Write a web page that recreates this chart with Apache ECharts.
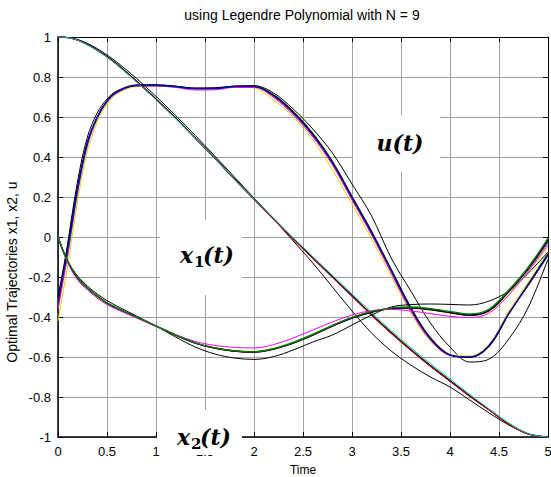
<!DOCTYPE html>
<html><head><meta charset="utf-8">
<script src="https://cdn.jsdelivr.net/npm/echarts@6/dist/echarts.min.js"></script>
<style>html,body{margin:0;padding:0;background:#fff}#c{width:551px;height:477px}</style>
</head><body><div id="c"></div>
<script>
// time samples (s)
const tt = [0,0.1,0.2,0.3,0.4,0.5,0.6,0.8,1.0,1.2,1.4,1.6,1.8,2.0,2.2,2.4,2.6,2.8,3.0,3.2,3.4,3.6,3.8,4.0,4.2,4.4,4.6,4.8,5.0];
const xTicks = [0,0.5,1,1.5,2,2.5,3,3.5,4,4.5,5];
const yTicks = [-1,-0.8,-0.6,-0.4,-0.2,0,0.2,0.4,0.6,0.8,1];

// control u(t)
const uBlack  = [-0.30,-0.04,0.25,0.475,0.60,0.68,0.725,0.758,0.760,0.753,0.743,0.744,0.753,0.753,0.710,0.625,0.515,0.375,0.200,0.025,-0.165,-0.355,-0.505,-0.590,-0.602,-0.545,-0.385,-0.235,-0.085];
const uBlue   = [-0.33,-0.06,0.24,0.470,0.60,0.68,0.725,0.758,0.758,0.752,0.742,0.742,0.752,0.752,0.705,0.620,0.510,0.370,0.195,0.020,-0.170,-0.360,-0.510,-0.590,-0.600,-0.540,-0.380,-0.240,-0.090];
const uGreen  = [-0.32,-0.07,0.23,0.465,0.595,0.678,0.724,0.757,0.757,0.751,0.741,0.741,0.752,0.754,0.712,0.630,0.520,0.380,0.205,0.030,-0.160,-0.350,-0.505,-0.588,-0.600,-0.545,-0.385,-0.240,-0.095];
const uRed    = [-0.34,-0.07,0.235,0.468,0.598,0.679,0.724,0.757,0.757,0.751,0.741,0.742,0.751,0.751,0.703,0.617,0.507,0.367,0.192,0.017,-0.172,-0.362,-0.512,-0.592,-0.601,-0.542,-0.382,-0.242,-0.092];
const uCyan   = [-0.33,-0.065,0.238,0.469,0.599,0.680,0.725,0.757,0.757,0.751,0.742,0.742,0.751,0.751,0.704,0.618,0.508,0.368,0.193,0.018,-0.171,-0.361,-0.511,-0.591,-0.601,-0.543,-0.383,-0.241,-0.091];
const uMagenta= [-0.36,-0.09,0.22,0.455,0.590,0.673,0.720,0.755,0.755,0.748,0.735,0.736,0.748,0.748,0.698,0.610,0.500,0.360,0.185,0.010,-0.180,-0.370,-0.515,-0.592,-0.600,-0.540,-0.380,-0.235,-0.085];
const uYellow = [-0.42,-0.14,0.18,0.430,0.575,0.665,0.715,0.752,0.754,0.749,0.740,0.741,0.750,0.745,0.685,0.600,0.485,0.335,0.165,-0.010,-0.195,-0.380,-0.520,-0.588,-0.595,-0.535,-0.370,-0.225,-0.075];
const uOut    = [-0.36,-0.03,0.28,0.500,0.620,0.690,0.730,0.760,0.760,0.754,0.745,0.746,0.755,0.757,0.720,0.640,0.540,0.420,0.265,0.105,-0.105,-0.270,-0.430,-0.550,-0.625,-0.610,-0.510,-0.350,-0.110];

// state x1(t)
const x1Black  = [1.0,0.997,0.985,0.963,0.935,0.902,0.865,0.780,0.690,0.595,0.495,0.395,0.290,0.190,0.090,-0.010,-0.105,-0.200,-0.295,-0.390,-0.480,-0.565,-0.645,-0.720,-0.795,-0.865,-0.935,-0.985,-1.0];
const x1Blue   = [1.0,0.997,0.985,0.962,0.934,0.901,0.864,0.779,0.689,0.594,0.494,0.394,0.290,0.190,0.091,-0.008,-0.103,-0.197,-0.292,-0.387,-0.477,-0.562,-0.642,-0.718,-0.793,-0.864,-0.934,-0.985,-1.0];
const x1Green  = [1.0,0.997,0.985,0.962,0.934,0.901,0.864,0.779,0.689,0.594,0.494,0.394,0.290,0.190,0.091,-0.008,-0.103,-0.198,-0.293,-0.388,-0.478,-0.563,-0.643,-0.718,-0.793,-0.864,-0.934,-0.985,-1.0];
const x1Red    = [1.0,0.997,0.984,0.962,0.933,0.900,0.862,0.777,0.687,0.592,0.492,0.392,0.288,0.188,0.088,-0.012,-0.107,-0.202,-0.297,-0.392,-0.482,-0.567,-0.647,-0.722,-0.797,-0.866,-0.936,-0.986,-1.0];
const x1Cyan   = [1.0,0.997,0.984,0.961,0.932,0.899,0.861,0.776,0.686,0.592,0.493,0.394,0.290,0.192,0.094,-0.004,-0.098,-0.192,-0.285,-0.378,-0.468,-0.553,-0.633,-0.710,-0.787,-0.860,-0.930,-0.983,-1.0];
const x1Magenta= [1.0,0.997,0.984,0.962,0.933,0.900,0.863,0.778,0.688,0.593,0.493,0.393,0.289,0.189,0.089,-0.010,-0.105,-0.200,-0.295,-0.390,-0.480,-0.565,-0.645,-0.720,-0.795,-0.865,-0.935,-0.985,-1.0];
const x1Yellow = [1.0,0.997,0.984,0.961,0.932,0.899,0.862,0.777,0.687,0.593,0.494,0.394,0.291,0.191,0.092,-0.006,-0.101,-0.195,-0.289,-0.383,-0.473,-0.559,-0.640,-0.716,-0.791,-0.862,-0.932,-0.984,-1.0];
const x1Out    = [1.0,0.998,0.988,0.968,0.942,0.910,0.875,0.793,0.703,0.608,0.508,0.405,0.300,0.195,0.090,-0.020,-0.130,-0.250,-0.370,-0.480,-0.570,-0.640,-0.700,-0.750,-0.815,-0.880,-0.940,-0.985,-1.0];

// state x2(t)
const x2Black  = [0,-0.125,-0.205,-0.255,-0.295,-0.330,-0.355,-0.400,-0.445,-0.490,-0.530,-0.555,-0.570,-0.575,-0.560,-0.530,-0.490,-0.445,-0.405,-0.375,-0.357,-0.354,-0.362,-0.377,-0.390,-0.367,-0.272,-0.157,-0.015];
const x2Blue   = [0,-0.125,-0.206,-0.256,-0.296,-0.331,-0.356,-0.401,-0.446,-0.491,-0.531,-0.556,-0.571,-0.576,-0.561,-0.531,-0.491,-0.446,-0.406,-0.376,-0.358,-0.355,-0.363,-0.378,-0.391,-0.368,-0.273,-0.158,-0.020];
const x2Green  = [0,-0.124,-0.204,-0.254,-0.294,-0.329,-0.354,-0.399,-0.444,-0.489,-0.529,-0.554,-0.569,-0.574,-0.559,-0.528,-0.487,-0.442,-0.402,-0.372,-0.354,-0.350,-0.358,-0.372,-0.385,-0.360,-0.265,-0.150,-0.005];
const x2Red    = [0,-0.126,-0.207,-0.257,-0.297,-0.332,-0.357,-0.402,-0.447,-0.492,-0.532,-0.557,-0.572,-0.577,-0.562,-0.532,-0.492,-0.447,-0.407,-0.377,-0.359,-0.356,-0.364,-0.379,-0.392,-0.369,-0.274,-0.160,-0.025];
const x2Cyan   = [0,-0.126,-0.207,-0.257,-0.297,-0.331,-0.356,-0.401,-0.446,-0.491,-0.530,-0.555,-0.569,-0.573,-0.557,-0.526,-0.486,-0.442,-0.403,-0.374,-0.357,-0.355,-0.364,-0.379,-0.392,-0.369,-0.275,-0.162,-0.030];
const x2Magenta= [0,-0.130,-0.215,-0.265,-0.305,-0.338,-0.362,-0.405,-0.447,-0.488,-0.522,-0.542,-0.552,-0.555,-0.538,-0.505,-0.465,-0.425,-0.390,-0.368,-0.362,-0.370,-0.383,-0.397,-0.403,-0.380,-0.290,-0.170,-0.040];
const x2Yellow = [0,-0.128,-0.210,-0.260,-0.300,-0.334,-0.358,-0.403,-0.447,-0.491,-0.529,-0.553,-0.567,-0.571,-0.555,-0.524,-0.485,-0.441,-0.402,-0.374,-0.358,-0.357,-0.366,-0.381,-0.393,-0.372,-0.282,-0.172,-0.050];
const x2Out    = [0,-0.120,-0.195,-0.245,-0.285,-0.318,-0.345,-0.395,-0.445,-0.500,-0.550,-0.585,-0.605,-0.612,-0.598,-0.565,-0.525,-0.490,-0.440,-0.390,-0.350,-0.338,-0.335,-0.337,-0.340,-0.320,-0.270,-0.180,-0.075];

const C = {k:'#000000', b:'#0000ff', g:'#008000', r:'#ff0000', c:'#00bfbf', m:'#ff00ff', y:'#d8d800'};

function mk(vals, color, w) {
  return {
    type: 'line', data: tt.map((t, i) => [t, vals[i]]),
    smooth: 0.35, symbol: 'none', silent: true, animation: false,
    lineStyle: { color: color, width: w || 1 }, xAxisIndex: 0, yAxisIndex: 0
  };
}

const series = [
  mk(uOut, C.k, 1), mk(uYellow, C.y), mk(uCyan, C.c), mk(uMagenta, C.m), mk(uRed, C.r), mk(uGreen, C.g), mk(uBlack, C.k, 1.3), mk(uBlue, C.b),
  mk(x1Out, C.k, 1), mk(x1Yellow, C.y), mk(x1Magenta, C.m), mk(x1Green, C.g), mk(x1Blue, C.b), mk(x1Black, C.k, 1.3), mk(x1Red, C.r), mk(x1Cyan, C.c),
  mk(x2Out, C.k, 1), mk(x2Yellow, C.y), mk(x2Cyan, C.c), mk(x2Red, C.r), mk(x2Blue, C.b), mk(x2Black, C.k, 1.3), mk(x2Magenta, C.m), mk(x2Green, C.g, 1.3)
];

const labelFont = { color: '#000', fontSize: 13, fontFamily: 'Liberation Sans, Arial, sans-serif' };
const fmt = v => String(+(+v).toFixed(1));
const serifBI = 'italic bold 22px "DejaVu Serif", serif';
const serifB = 'bold 15px "DejaVu Serif", serif';

const chart = echarts.init(document.getElementById('c'), null, { renderer: 'svg' });
chart.setOption({
  animation: false,
  backgroundColor: '#fff',
  grid: { left: 58, right: 3, top: 37, bottom: 40, containLabel: false, outerBoundsMode: 'none' },
  xAxis: [
    { type: 'value', min: xTicks[0], max: xTicks[xTicks.length - 1], interval: 0.5,
      name: 'Time', nameLocation: 'middle', nameGap: 27,
      nameTextStyle: { color: '#000', fontSize: 12, fontFamily: 'Liberation Sans, Arial, sans-serif' },
      axisLine: { show: true, onZero: false, lineStyle: { color: '#000', width: 1.5 } },
      axisTick: { show: true, inside: true, length: 5, lineStyle: { color: '#000' } },
      axisLabel: Object.assign({ margin: 8, formatter: fmt }, labelFont),
      splitLine: { show: true, lineStyle: { color: '#a0a0a0', width: 1 } } },
    { type: 'value', position: 'top', min: 0, max: 5, interval: 0.5,
      axisLine: { show: true, onZero: false, lineStyle: { color: '#000', width: 1 } },
      axisTick: { show: true, inside: true, length: 5, lineStyle: { color: '#000' } },
      axisLabel: { show: false }, splitLine: { show: false } }
  ],
  yAxis: [
    { type: 'value', min: yTicks[0], max: yTicks[yTicks.length - 1], interval: 0.2,
      axisLine: { show: true, onZero: false, lineStyle: { color: '#000', width: 1.5 } },
      axisTick: { show: true, inside: true, length: 5, lineStyle: { color: '#000' } },
      axisLabel: Object.assign({ margin: 7, formatter: fmt }, labelFont),
      splitLine: { show: true, lineStyle: { color: '#a0a0a0', width: 1 } } },
    { type: 'value', position: 'right', min: -1, max: 1, interval: 0.2,
      axisLine: { show: true, onZero: false, lineStyle: { color: '#000', width: 1 } },
      axisTick: { show: true, inside: true, length: 5, lineStyle: { color: '#000' } },
      axisLabel: { show: false }, splitLine: { show: false } }
  ],
  series: series,
  graphic: [
    { type: 'text', z: 50, x: 302, y: 8, style: { text: 'using Legendre Polynomial with N = 9', align: 'center', verticalAlign: 'top', fill: '#000', font: '14px "Liberation Sans", Arial, sans-serif' } },
    { type: 'text', z: 50, rotation: Math.PI / 2, x: 5, y: 272,
      style: { text: 'Optimal Trajectories x1, x2, u', align: 'center', verticalAlign: 'top', fill: '#000', font: '14px "Liberation Sans", Arial, sans-serif' } },
    // annotation boxes
    { type: 'rect', z: 100, shape: { x: 353, y: 115, width: 87, height: 57 }, style: { fill: '#fff' } },
    { type: 'text', z: 101, x: 400, y: 143, style: { text: 'u(t)', align: 'center', verticalAlign: 'middle', fill: '#000', font: serifBI } },
    { type: 'rect', z: 100, shape: { x: 160, y: 220, width: 82, height: 75 }, style: { fill: '#fff' } },
    { type: 'text', z: 101, x: 180, y: 255, style: { text: 'x', align: 'left', verticalAlign: 'middle', fill: '#000', font: serifBI } },
    { type: 'text', z: 101, x: 194, y: 262, style: { text: '1', align: 'left', verticalAlign: 'middle', fill: '#000', font: serifB } },
    { type: 'text', z: 101, x: 203, y: 255, style: { text: '(t)', align: 'left', verticalAlign: 'middle', fill: '#000', font: serifBI } },
    { type: 'rect', z: 100, shape: { x: 157, y: 410, width: 85, height: 45 }, style: { fill: '#fff' } },
    { type: 'text', z: 101, x: 177, y: 437, style: { text: 'x', align: 'left', verticalAlign: 'middle', fill: '#000', font: serifBI } },
    { type: 'text', z: 101, x: 191, y: 444, style: { text: '2', align: 'left', verticalAlign: 'middle', fill: '#000', font: serifB } },
    { type: 'text', z: 101, x: 200, y: 437, style: { text: '(t)', align: 'left', verticalAlign: 'middle', fill: '#000', font: serifBI } }
  ]
});
</script></body></html>
